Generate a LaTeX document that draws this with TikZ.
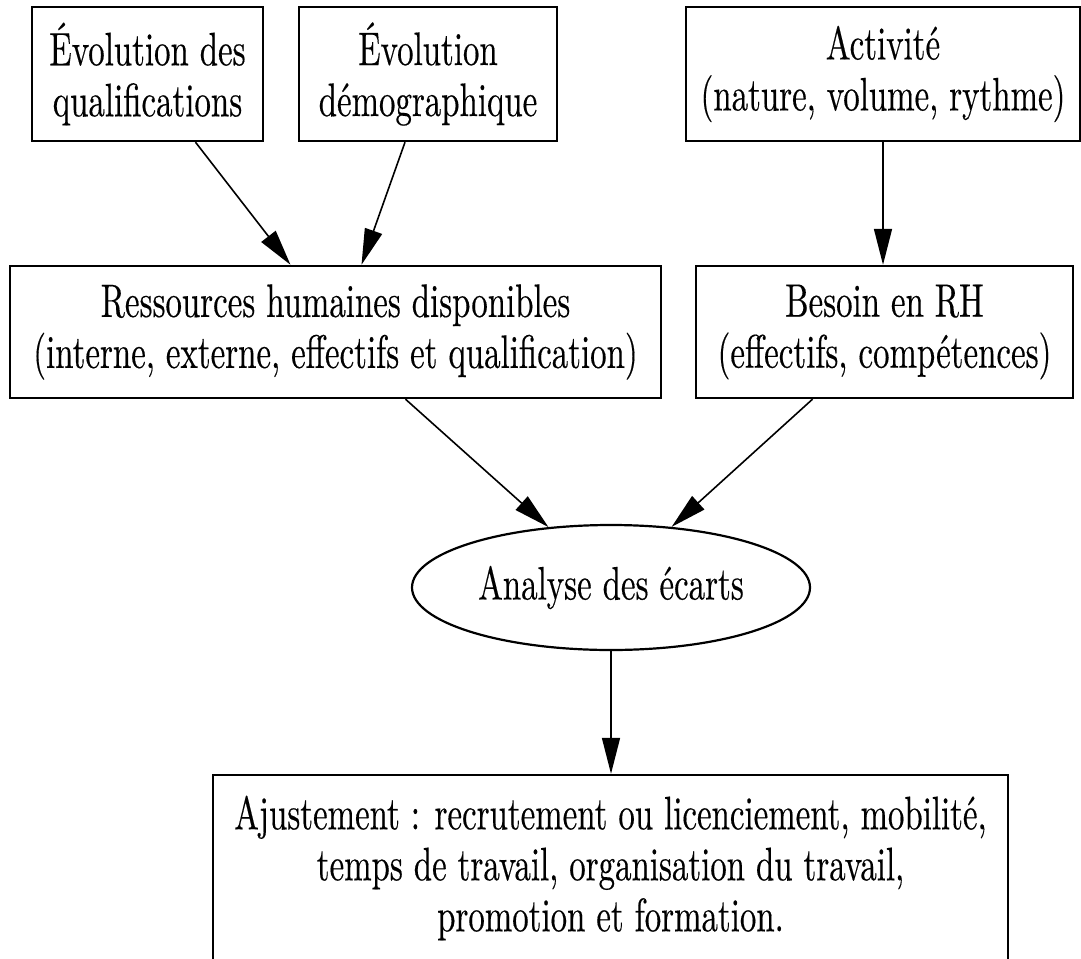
\documentclass[tikz,border=0pt]{standalone}
\usepackage{fontspec}
\setmainfont{lmroman10-regular}[Extension=.otf,FakeStretch=0.7,FakeBold=0.3]
\usetikzlibrary{shapes.geometric}
\usetikzlibrary{arrows.meta}
\usetikzlibrary{positioning}
\tikzset{
	action/.style={rectangle, draw, line width=2.4pt, align=center, inner sep=0pt, font=\fontsize{47}{51}\selectfont},
	analysis/.style={ellipse, draw, line width=2.2pt, inner sep=0pt, font=\fontsize{47}{51}\selectfont},
	arrow/.style={draw, -{Triangle[length=36pt,width=18pt]}, line width=1.6pt}
}
\begin{document}
\begin{tikzpicture}[x=1pt,y=-1pt]
\useasboundingbox (0,0) rectangle (1081,958);

\node[action, minimum width=231pt, minimum height=134pt] (qualif) at (147.5,74)
	{Évolution des\\qualifications};

\node[action, minimum width=258pt, minimum height=134pt] (demo) at (428,74)
	{Évolution\\démographique};

\node[action, minimum width=394pt, minimum height=134pt] (activite) at (883,74)
	{Activité\\(nature, volume, rythme)};

\node[action, minimum width=651pt, minimum height=132pt] (ressources) at (335.5,332)
	{Ressources humaines disponibles\\(interne, externe, effectifs et qualification)};

\node[action, minimum width=377pt, minimum height=132pt] (besoin) at (884.5,332)
	{Besoin en RH\\(effectifs, compétences)};

\node[analysis, minimum width=398pt, minimum height=125pt] (ecarts) at (611,587.5)
	{Analyse des écarts};

\node[action, minimum width=795pt, minimum height=186pt] (ajustement) at (610.5,868)
	{Ajustement : recrutement ou licenciement, mobilité,\\temps de travail, organisation du travail,\\promotion et formation.};

\draw [arrow] ([xshift=48pt]qualif.south) -- ([xshift=-45pt]ressources.north);
\draw [arrow] ([xshift=-23pt]demo.south) -- ([xshift=26pt]ressources.north);
\draw [arrow] (activite.south) -- (besoin.north -| activite.south);
\draw [arrow] ([xshift=70pt]ressources.south) -- (ecarts.136);
\draw [arrow] ([xshift=-72pt]besoin.south) -- (ecarts.45);
\draw [arrow] (ecarts.south) -- (ajustement.north -| ecarts.south);

\end{tikzpicture}
\end{document}
